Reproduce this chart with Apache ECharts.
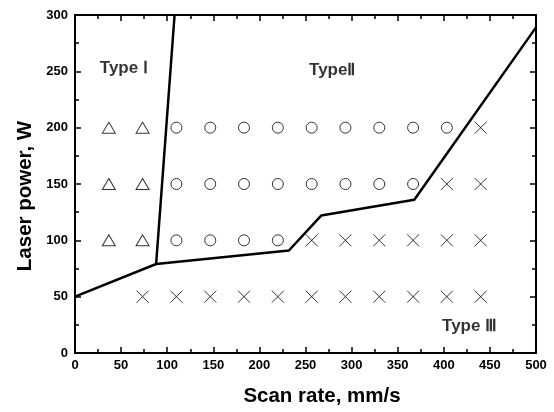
<!DOCTYPE html>
<html>
<head>
<meta charset="utf-8">
<script src="https://cdn.jsdelivr.net/npm/echarts@6/dist/echarts.min.js"></script>
<style>
	html, body { margin: 0; padding: 0; background: #fff; }
	#main { width: 554px; height: 412px; }
</style>
</head>
<body>
<div id="main"></div>
<script type="text/javascript">
	// 数据
	var triangles = [[36.7, 100], [73.3, 100], [36.7, 150], [73.3, 150], [36.7, 200], [73.3, 200]];
	var circles = [
		[110, 100], [146.7, 100], [183.3, 100], [220, 100],
		[110, 150], [146.7, 150], [183.3, 150], [220, 150], [256.7, 150], [293.3, 150], [330, 150], [366.7, 150],
		[110, 200], [146.7, 200], [183.3, 200], [220, 200], [256.7, 200], [293.3, 200], [330, 200], [366.7, 200], [403.3, 200]
	];
	var crosses = [
		[73.3, 50], [110, 50], [146.7, 50], [183.3, 50], [220, 50], [256.7, 50], [293.3, 50], [330, 50], [366.7, 50], [403.3, 50], [440, 50],
		[256.7, 100], [293.3, 100], [330, 100], [366.7, 100], [403.3, 100], [440, 100],
		[403.3, 150], [440, 150],
		[440, 200]
	];
	var boundaryLeft = [[0, 50], [88, 79], [108, 300]];
	var boundaryRight = [[88, 79], [232, 91], [267, 122], [368, 136], [500, 289]];
	var typeLabels = [[53, 253, 'Type Ⅰ'], [279, 251, 'TypeⅡ'], [428, 24, 'Type Ⅲ']];

	var font = 'Liberation Sans, Arial, sans-serif';
	var lineStyle = { color: '#000', width: 2 };

	var myChart = echarts.init(document.getElementById('main'));

	function axisBase(extra) {
		var a = {
			type: 'value',
			min: 0,
			interval: 50,
			splitLine: { show: false },
			axisLine: { show: true, onZero: false, lineStyle: lineStyle },
			axisTick: { show: true, inside: true, length: 6, lineStyle: { color: '#000', width: 1.5 } },
			minorTick: { show: true, splitNumber: 2, length: 4, lineStyle: { color: '#000', width: 1.5 } }
		};
		for (var k in extra) a[k] = extra[k];
		return a;
	}

	var option = {
		animation: false,
		grid: { left: 75, right: 18, top: 15, bottom: 58 },
		xAxis: [
			axisBase({
				max: 500,
				position: 'bottom',
				name: 'Scan rate, mm/s',
				nameLocation: 'middle',
				nameGap: 33,
				// 轴名称稍微偏右
				nameTextStyle: { fontFamily: font, fontWeight: 'bold', fontSize: 20.5, color: '#000', padding: [0, 0, 0, 33] },
				axisLabel: { margin: 6, fontFamily: font, fontWeight: 'bold', fontSize: 13, color: '#000' }
			}),
			axisBase({ max: 500, position: 'top', axisLabel: { show: false } })
		],
		yAxis: [
			axisBase({
				max: 300,
				position: 'left',
				name: 'Laser power, W',
				nameLocation: 'middle',
				nameGap: 38,
				// 轴名称稍微偏下
				nameTextStyle: { fontFamily: font, fontWeight: 'bold', fontSize: 20.5, color: '#000', padding: [0, 24, 0, 0] },
				axisLabel: { margin: 7, fontFamily: font, fontWeight: 'bold', fontSize: 13, color: '#000' }
			}),
			axisBase({ max: 300, position: 'right', axisLabel: { show: false } })
		],
		series: [
			{
				type: 'line', data: boundaryLeft, symbol: 'none',
				lineStyle: { color: '#000', width: 2.5 }, z: 3
			},
			{
				type: 'line', data: boundaryRight, symbol: 'none',
				lineStyle: { color: '#000', width: 2.5 }, z: 3
			},
			{
				type: 'scatter', data: triangles, symbol: 'triangle', symbolSize: [13, 11],
				itemStyle: { color: 'transparent', borderColor: '#000', borderWidth: 1 }
			},
			{
				type: 'scatter', data: circles, symbol: 'circle', symbolSize: 11,
				itemStyle: { color: 'transparent', borderColor: '#000', borderWidth: 1 }
			},
			{
				type: 'scatter', data: crosses, symbol: 'path://M0,0L10,10M10,0L0,10', symbolSize: 12,
				itemStyle: { color: 'transparent', borderColor: '#000', borderWidth: 1 }
			},
			{
				// 区域文字
				type: 'scatter', data: typeLabels, symbolSize: 0, silent: true,
				label: {
					show: true, position: 'inside',
					formatter: function (p) { return p.data[2]; },
					fontFamily: font, fontWeight: 'bold', fontSize: 17, color: '#000'
				}
			}
		]
	};
	myChart.setOption(option);
</script>
</body>
</html>
